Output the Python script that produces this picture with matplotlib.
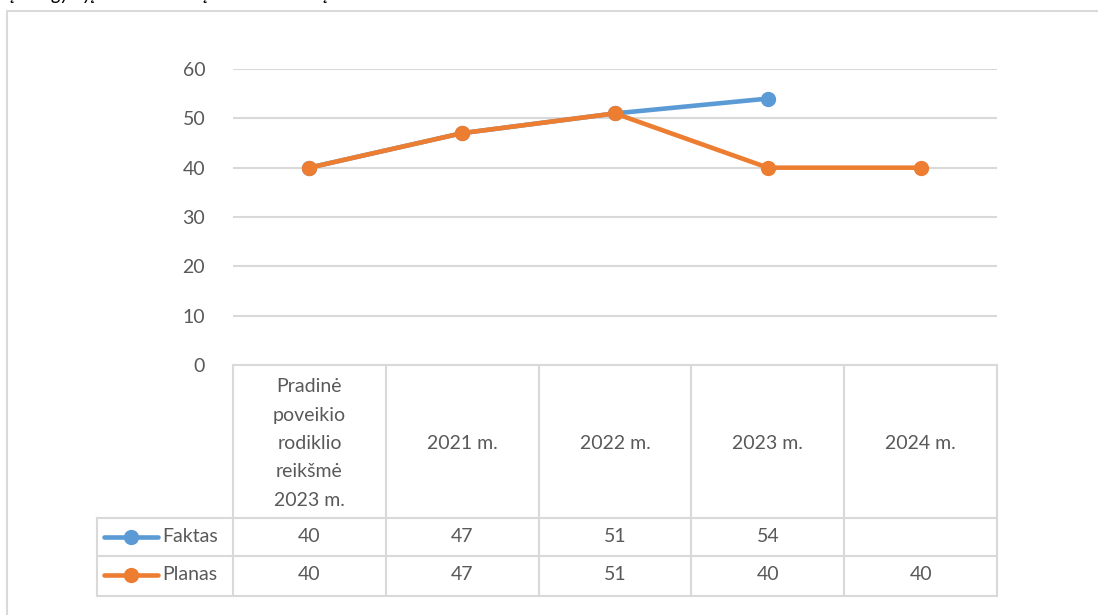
import matplotlib.pyplot as plt
from matplotlib.lines import Line2D

plt.rcParams['font.family'] = ['Lato', 'DejaVu Sans']

# data
categories = ['Pradinė\npoveikio\nrodiklio\nreikšmė\n2023 m.', '2021 m.', '2022 m.', '2023 m.', '2024 m.']
faktas = [40, 47, 51, 54, None]
planas = [40, 47, 51, 40, 40]
series_names = ['Faktas', 'Planas']
yticks = [0, 10, 20, 30, 40, 50, 60]

blue = '#5B9BD5'
orange = '#ED7D31'
grid = '#D9D9D9'
txt = '#595959'
fs = 14

W, H = 1098, 615
fig = plt.figure(figsize=(W / 100, H / 100), dpi=100)

def fx(px):
    return px / W

def fy(py):
    return 1 - py / H

# plot area in pixel coordinates
x0, x1, ytop, ybot = 233, 997, 69, 365
ax = fig.add_axes([fx(x0), fy(ybot), fx(x1) - fx(x0), fy(ytop) - fy(ybot)])
ax.set_xlim(-0.5, len(categories) - 0.5)
ax.set_ylim(0, 60)
ax.set_yticks(yticks)
ax.set_xticks([])
ax.tick_params(axis='y', length=0, pad=20, labelsize=fs, labelcolor=txt)
for s in ax.spines.values():
    s.set_visible(False)
ax.grid(axis='y', color=grid, linewidth=1.5)
ax.set_axisbelow(True)

xs = list(range(len(categories)))
fx_x = [x for x, v in zip(xs, faktas) if v is not None]
fx_v = [v for v in faktas if v is not None]
ax.plot(fx_x, fx_v, color=blue, linewidth=3.3, marker='o', markersize=10, solid_capstyle='round')
ax.plot(xs, planas, color=orange, linewidth=3.3, marker='o', markersize=10, solid_capstyle='round')

# data table below the plot
tax = fig.add_axes([0, 0, 1, 1], facecolor='none')
tax.set_xlim(0, W)
tax.set_ylim(H, 0)
tax.axis('off')

col_w = (x1 - x0) / len(categories)
edges = [x0 + i * col_w for i in range(len(categories) + 1)]
r_head, r1, r2, r3 = 365, 518, 556, 596
leg_x = 97

lk = dict(color=grid, linewidth=1.5, solid_capstyle='projecting')
tax.plot([x0, x1], [r_head, r_head], **lk)
for e in edges:
    tax.plot([e, e], [r_head, r3], **lk)
for r in (r1, r2, r3):
    tax.plot([leg_x, x1], [r, r], **lk)
tax.plot([leg_x, leg_x], [r1, r3], **lk)

for i, c in enumerate(categories):
    cx = (edges[i] + edges[i + 1]) / 2
    tax.text(cx, (r_head + r1) / 2 + 2, c, ha='center', va='center', fontsize=fs,
             color=txt, linespacing=1.82)
    for row, vals in ((r1, faktas), (r2, planas)):
        v = vals[i]
        if v is not None:
            tax.text(cx, row + 19, str(v), ha='center', va='center', fontsize=fs, color=txt)

for row, name, col in ((r1, series_names[0], blue), (r2, series_names[1], orange)):
    cy = row + 19
    tax.add_line(Line2D([104, 158], [cy, cy], color=col, linewidth=3.3, solid_capstyle='round'))
    tax.plot([131], [cy], marker='o', markersize=10, color=col)
    tax.text(162, cy, name, ha='left', va='center', fontsize=fs, color=txt)

# outer chart border
tax.plot([7, 7, W + 5], [H + 5, 11, 11], color=grid, linewidth=1.5)

# cut-off title descenders at the very top
for px, s in ((10, 'į'), (52, 'gy'), (82, 'yį'), (203, 'į'), (323, 'į')):
    tax.text(px, 0, s, ha='left', va='baseline', fontsize=14, color='black',
             style='italic', clip_on=False)

fig.savefig('out.png', dpi=100)
